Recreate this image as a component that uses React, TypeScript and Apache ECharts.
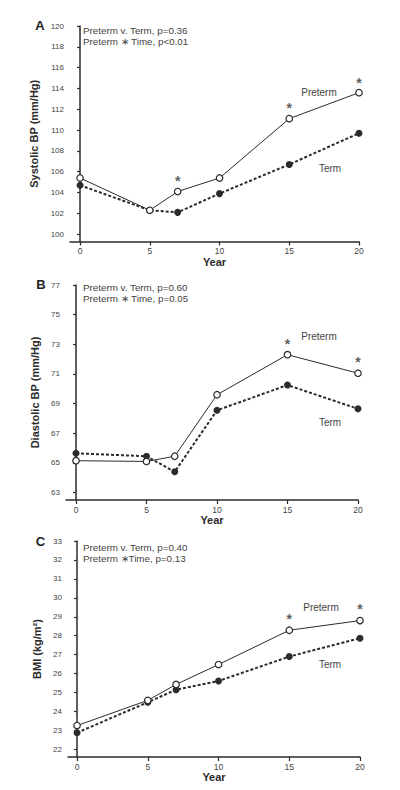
import React, { useEffect, useRef } from "react";
import * as echarts from "echarts";

const years = [0, 5, 7, 10, 15, 20];
const xTicks = [0, 5, 10, 15, 20];

const sbpPreterm = [105.4, 102.3, 104.1, 105.4, 111.1, 113.6];
const sbpTerm = [104.7, 102.3, 102.1, 103.9, 106.7, 109.7];
const sbpStars = [[7, 105.4], [15, 112.4], [20, 114.8]];
const sbpTicks = [100, 102, 104, 106, 108, 110, 112, 114, 116, 118, 120];

const dbpPreterm = [65.15, 65.1, 65.45, 69.6, 72.3, 71.05];
const dbpTerm = [65.65, 65.45, 64.4, 68.55, 70.25, 68.65];
const dbpStars = [[15, 73.25], [20, 72.0]];
const dbpTicks = [63, 65, 67, 69, 71, 73, 75, 77];

const bmiPreterm = [23.26, 24.59, 25.43, 26.48, 28.29, 28.8];
const bmiTerm = [22.88, 24.49, 25.15, 25.61, 26.9, 27.87];
const bmiStars = [[15, 29.06], [20, 29.57]];
const bmiTicks = [22, 23, 24, 25, 26, 27, 28, 29, 30, 31, 32, 33];

const panelLetters = ["A", "B", "C"];
const yNames = ["Systolic BP (mm/Hg)", "Diastolic BP (mm/Hg)", "BMI (kg/m²)"];
const annotations = [
  ["Preterm v. Term, p=0.36", "Preterm \u2217 Time, p<0.01"],
  ["Preterm v. Term, p=0.60", "Preterm \u2217 Time, p=0.05"],
  ["Preterm v. Term, p=0.40", "Preterm \u2217Time, p=0.13"],
];
const groupNames = ["Preterm", "Term"];

const INK = "#2b2b2b";
const FONT = "Liberation Sans, Arial, sans-serif";

const panels = [
  { pre: sbpPreterm, term: sbpTerm, stars: sbpStars, ticks: sbpTicks, ymin: 99.3, ymax: 120, xmin: -0.72,
    grid: { left: 70, right: 41, top: 26, height: 215.5 }, nameGap: 21,
    letter: [40, 25], ann: [83, 30], preLbl: [319, 92], termLbl: [330, 168] },
  { pre: dbpPreterm, term: dbpTerm, stars: dbpStars, ticks: dbpTicks, ymin: 62.5, ymax: 77, xmin: -0.71,
    grid: { left: 66, right: 42, top: 285, height: 215 }, nameGap: 19,
    letter: [41, 284.5], ann: [83, 287], preLbl: [319, 336], termLbl: [330, 422] },
  { pre: bmiPreterm, term: bmiTerm, stars: bmiStars, ticks: bmiTicks, ymin: 21.6, ymax: 33, xmin: -0.64,
    grid: { left: 68, right: 40, top: 541, height: 216 }, nameGap: 20,
    letter: [40.5, 541], ann: [83, 547], preLbl: [321, 607], termLbl: [330, 664] },
];

export default function App() {
  const ref = useRef<HTMLDivElement>(null);
  useEffect(() => {
    if (!ref.current) return;
    const chart = echarts.init(ref.current, undefined, { renderer: "svg" });
    const grid: any[] = [];
    const xAxis: any[] = [];
    const yAxis: any[] = [];
    const series: any[] = [];
    const graphic: any[] = [];
    panels.forEach((p, i) => {
      grid.push(p.grid);
      xAxis.push({
        gridIndex: i, type: "value", min: p.xmin, max: 20,
        name: "Year", nameLocation: "middle", nameGap: 12,
        nameTextStyle: { fontFamily: FONT, fontSize: 11, fontWeight: "bold", color: INK },
        axisLine: { lineStyle: { color: INK, width: 1.5 } },
        axisTick: { show: true, length: 4, lineStyle: { color: INK, width: 1.2 }, customValues: xTicks },
        axisLabel: { fontFamily: FONT, fontSize: 8.5, color: "#444", margin: 5, customValues: xTicks },
        splitLine: { show: false },
      });
      yAxis.push({
        gridIndex: i, type: "value", min: p.ymin, max: p.ymax,
        name: yNames[i], nameLocation: "middle", nameGap: p.nameGap, nameRotate: 90,
        nameTextStyle: { fontFamily: FONT, fontSize: 11, fontWeight: "bold", color: INK },
        axisLine: { show: true, lineStyle: { color: INK, width: 1.5 } },
        axisTick: { show: true, length: 3, lineStyle: { color: INK, width: 1.2 }, customValues: p.ticks },
        axisLabel: { fontFamily: FONT, fontSize: 8, color: "#444", margin: 6, customValues: p.ticks },
        splitLine: { show: false },
      });
      series.push({
        type: "line", name: groupNames[1], xAxisIndex: i, yAxisIndex: i,
        data: years.map((y, k) => [y, p.term[k]]),
        symbol: "circle", symbolSize: 7,
        lineStyle: { color: INK, width: 2, type: [3, 2] },
        itemStyle: { color: INK, borderColor: INK, borderWidth: 0 },
        z: 2,
      });
      series.push({
        type: "line", name: groupNames[0], xAxisIndex: i, yAxisIndex: i,
        data: years.map((y, k) => [y, p.pre[k]]),
        symbol: "circle", symbolSize: 6.5,
        lineStyle: { color: INK, width: 1 },
        itemStyle: { color: "#fff", borderColor: INK, borderWidth: 1.2 },
        z: 3,
      });
      series.push({
        type: "scatter", xAxisIndex: i, yAxisIndex: i,
        data: p.stars, symbol: "circle", symbolSize: 1,
        itemStyle: { color: "#ffffff" },
        label: { show: true, position: "inside", formatter: "*", fontFamily: FONT, fontSize: 14, fontWeight: "bold", color: "#333", offset: [0, 3] },
        z: 4,
      });
      graphic.push({
        type: "text", x: p.letter[0], y: p.letter[1],
        style: { text: panelLetters[i], fontFamily: FONT, fontSize: 13, fontWeight: "bold", fill: "#222", align: "center", verticalAlign: "middle" },
      });
      annotations[i].forEach((t, k) => {
        graphic.push({
          type: "text", x: p.ann[0], y: p.ann[1] + k * 11.5,
          style: { text: t, fontFamily: FONT, fontSize: 9.8, fill: "#444", align: "left", verticalAlign: "middle" },
        });
      });
      graphic.push({
        type: "text", x: p.preLbl[0], y: p.preLbl[1],
        style: { text: groupNames[0], fontFamily: FONT, fontSize: 10, fill: "#444", align: "center", verticalAlign: "middle" },
      });
      graphic.push({
        type: "text", x: p.termLbl[0], y: p.termLbl[1],
        style: { text: groupNames[1], fontFamily: FONT, fontSize: 10, fill: "#444", align: "center", verticalAlign: "middle" },
      });
    });
    chart.setOption({
      animation: false,
      backgroundColor: "#fff",
      grid, xAxis, yAxis, series, graphic,
    });
    return () => chart.dispose();
  }, []);
  return (
    <div
      ref={ref}
      style={{ position: "fixed", left: 0, top: 0, width: 400, height: 790, background: "#fff" }}
    />
  );
}
